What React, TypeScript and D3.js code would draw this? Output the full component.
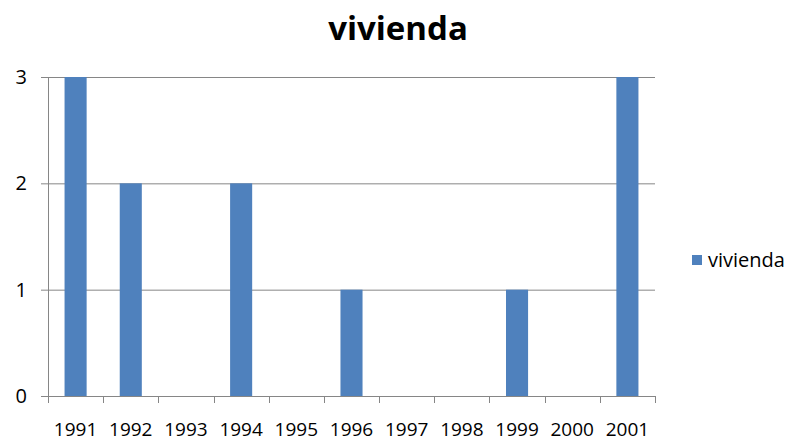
import { useEffect, useRef } from 'react';
import * as d3 from 'd3';

const years = ['1991', '1992', '1993', '1994', '1995', '1996', '1997', '1998', '1999', '2000', '2001'];
const vivienda = [3, 2, 0, 2, 0, 1, 0, 0, 1, 0, 3];
const yTicks = [0, 1, 2, 3];
const seriesName = 'vivienda';

const W = 787;
const H = 441;
const FONT = '"Open Sans", "Liberation Sans", sans-serif';
const BAR = '#4F81BD';

export default function App() {
  const svgRef = useRef<SVGSVGElement>(null);

  useEffect(() => {
    if (!svgRef.current) return;
    const svg = d3.select(svgRef.current);
    svg.selectAll('*').remove();

    const left = 48, right = 655, top = 77, bottom = 396;

    const x = d3.scaleBand<string>()
      .domain(years)
      .range([left, right])
      .paddingInner(0.6)
      .paddingOuter(0.3);
    const step = (right - left) / years.length;

    const y = d3.scaleLinear().domain([0, 3]).range([bottom, top]);

    svg.append('rect').attr('width', W).attr('height', H).attr('fill', '#fff');

    // title
    svg.append('text')
      .attr('x', 398).attr('y', 40)
      .attr('text-anchor', 'middle')
      .attr('font-family', FONT)
      .attr('font-weight', 'bold')
      .attr('font-size', 33)
      .attr('fill', '#000')
      .text(seriesName);

    // gridlines
    svg.append('g')
      .selectAll('line')
      .data(yTicks)
      .join('line')
      .attr('x1', left - 7).attr('x2', right)
      .attr('y1', d => y(d) + 0.5).attr('y2', d => y(d) + 0.5)
      .attr('stroke', '#868686')
      .attr('stroke-width', 1);

    // y axis line
    svg.append('line')
      .attr('x1', left + 0.5).attr('x2', left + 0.5)
      .attr('y1', top).attr('y2', bottom)
      .attr('stroke', '#868686');

    // x tick marks
    svg.append('g')
      .selectAll('line')
      .data(d3.range(years.length + 1))
      .join('line')
      .attr('x1', i => Math.round(left + i * step) + 0.5)
      .attr('x2', i => Math.round(left + i * step) + 0.5)
      .attr('y1', bottom).attr('y2', bottom + 7)
      .attr('stroke', '#868686');

    // y labels
    svg.append('g')
      .selectAll('text')
      .data(yTicks)
      .join('text')
      .attr('x', 27)
      .attr('y', d => y(d) + 7)
      .attr('text-anchor', 'end')
      .attr('font-family', FONT)
      .attr('font-size', 20)
      .attr('fill', '#000')
      .text(d => d);

    // bars
    svg.append('g')
      .selectAll('rect')
      .data(vivienda.map((v, i) => ({ year: years[i], v })).filter(d => d.v > 0))
      .join('rect')
      .attr('x', d => x(d.year)!)
      .attr('width', x.bandwidth())
      .attr('y', d => y(d.v))
      .attr('height', d => y(0) - y(d.v))
      .attr('fill', BAR);

    // x labels
    svg.append('g')
      .selectAll('text')
      .data(years)
      .join('text')
      .attr('x', d => x(d)! + x.bandwidth() / 2)
      .attr('y', 436)
      .attr('text-anchor', 'middle')
      .attr('font-family', FONT)
      .attr('font-size', 19)
      .attr('fill', '#000')
      .text(d => d);

    // legend
    svg.append('rect')
      .attr('x', 692).attr('y', 255)
      .attr('width', 10).attr('height', 10)
      .attr('fill', BAR);
    svg.append('text')
      .attr('x', 708).attr('y', 267)
      .attr('font-family', FONT)
      .attr('font-size', 20)
      .attr('fill', '#000')
      .text(seriesName);
  }, []);

  return (
    <div style={{ position: 'absolute', left: 0, top: 0 }}>
      <svg ref={svgRef} width={W} height={H}></svg>
    </div>
  );
}
